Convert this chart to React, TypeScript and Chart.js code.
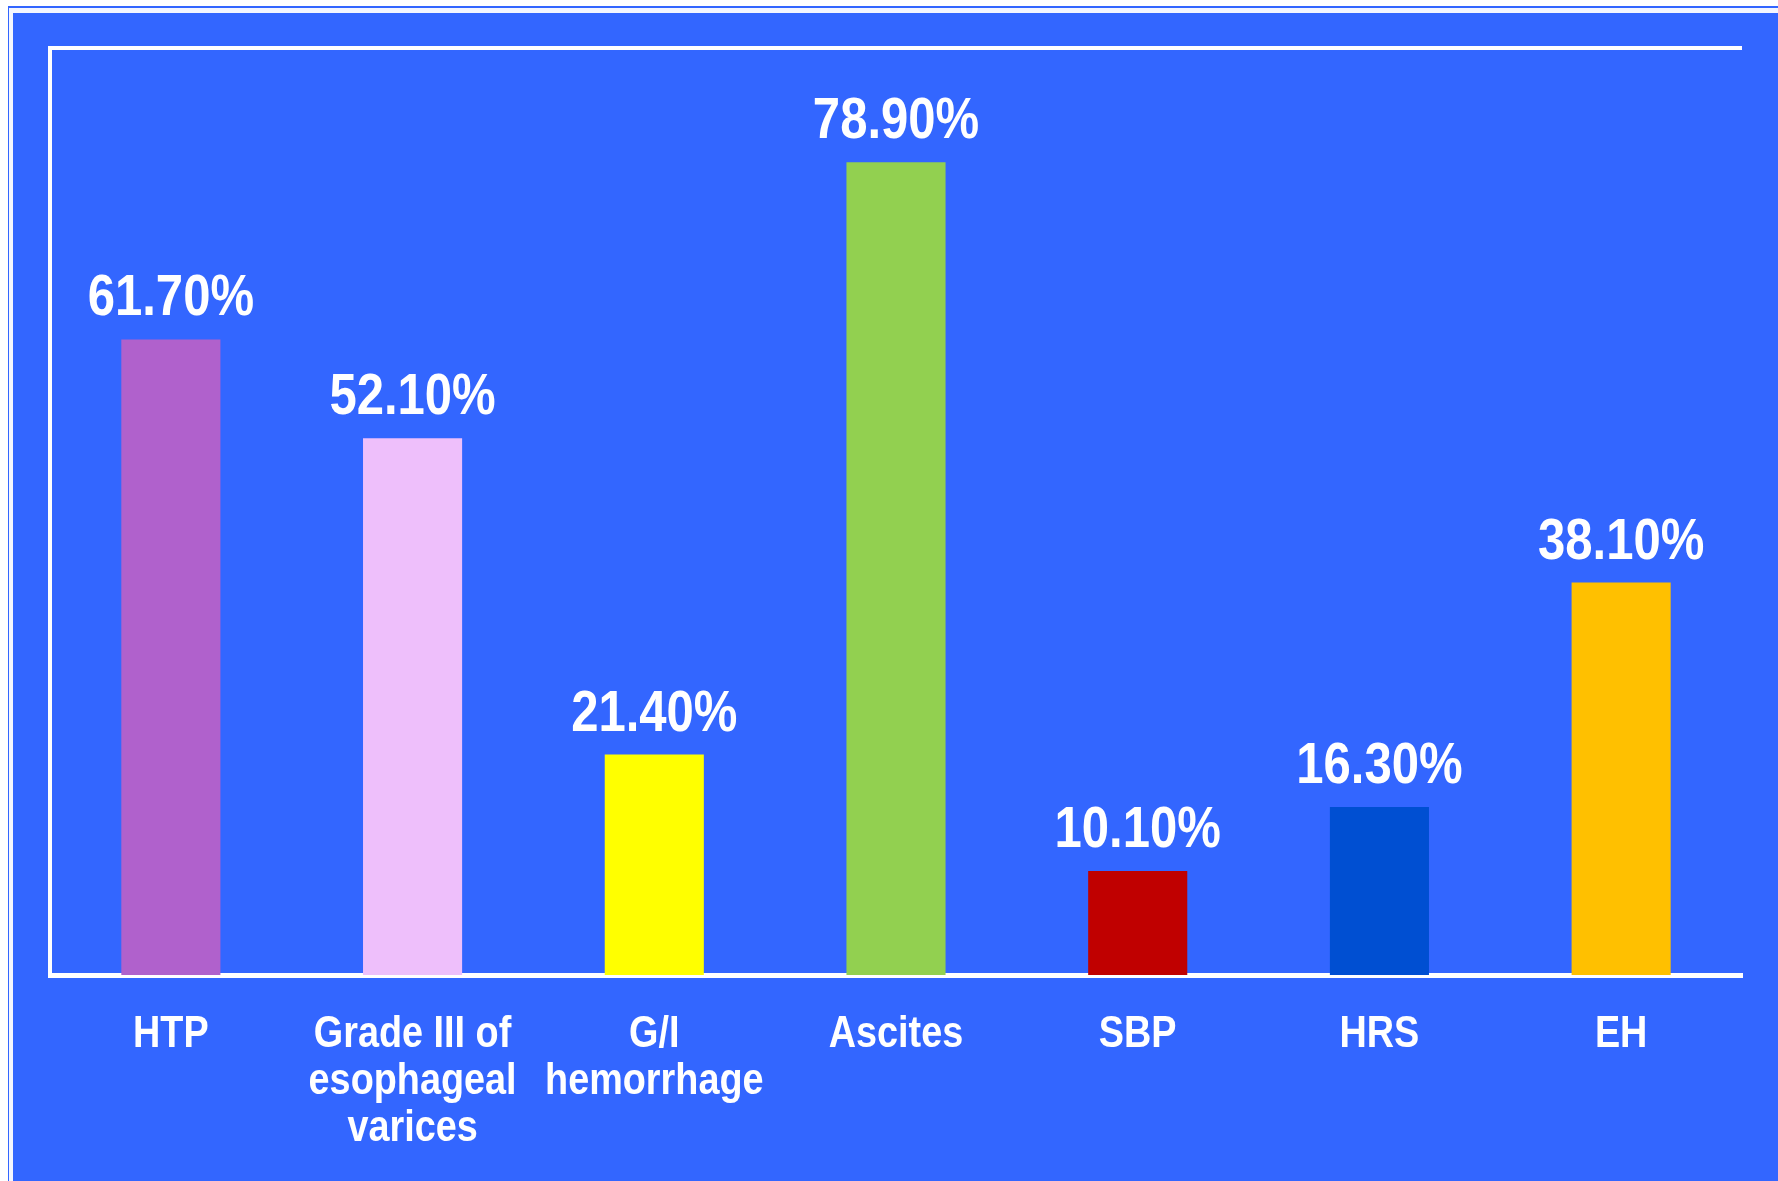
import React, { useEffect, useRef } from "react";
import { Chart, registerables } from "chart.js";

Chart.register(...registerables);

const categories: string[][] = [
  ["HTP"],
  ["Grade III of", "esophageal", "varices"],
  ["G/I", "hemorrhage"],
  ["Ascites"],
  ["SBP"],
  ["HRS"],
  ["EH"],
];
const values: number[] = [61.7, 52.1, 21.4, 78.9, 10.1, 16.3, 38.1];
const barColors: string[] = [
  "#B061CC",
  "#EEBFFB",
  "#FFFF00",
  "#92D050",
  "#C00000",
  "#004FD2",
  "#FFC000",
];
const yMin = 0;
const yMax = 90;

const FONT = '"Liberation Sans", Arial, Helvetica, sans-serif';
const BG = "#3366FF";

// draws text horizontally condensed, centered at x
function drawCondensed(ctx: CanvasRenderingContext2D, text: string, x: number, y: number, sx: number) {
  ctx.save();
  ctx.translate(x, y);
  ctx.scale(sx, 1);
  ctx.fillText(text, 0, 0);
  ctx.restore();
}

const framePlugin = {
  id: "frameAndLabels",
  afterDatasetsDraw(chart: any) {
    const { ctx, chartArea } = chart;
    ctx.save();
    ctx.strokeStyle = "#FFFFFF";
    ctx.lineWidth = 4;
    ctx.lineJoin = "miter";
    ctx.beginPath();
    ctx.moveTo(chartArea.left, chartArea.bottom);
    ctx.lineTo(chartArea.left, chartArea.top);
    ctx.lineTo(chartArea.right, chartArea.top);
    ctx.stroke();

    // value labels above bars
    const meta = chart.getDatasetMeta(0);
    ctx.fillStyle = "#FFFFFF";
    ctx.font = `bold 57px ${FONT}`;
    ctx.textAlign = "center";
    ctx.textBaseline = "alphabetic";
    meta.data.forEach((bar: any, i: number) => {
      drawCondensed(ctx, values[i].toFixed(2) + "%", bar.x, bar.y - 24, 0.86);
    });

    // category labels under the x axis
    const xs = chart.scales.x;
    ctx.font = `bold 45px ${FONT}`;
    categories.forEach((lines, i) => {
      const x = xs.getPixelForTick(i);
      lines.forEach((line, j) => {
        drawCondensed(ctx, line, x, xs.bottom + 72 + j * 47, 0.84);
      });
    });
    ctx.restore();
  },
};

export default function App() {
  const ref = useRef<HTMLCanvasElement | null>(null);

  useEffect(() => {
    if (!ref.current) return;
    const chart = new Chart(ref.current, {
      type: "bar",
      data: {
        labels: categories.map((c) => c.join(" ")),
        datasets: [
          {
            data: values,
            backgroundColor: barColors,
            borderWidth: 0,
            barPercentage: 0.41,
            categoryPercentage: 1,
          },
        ],
      },
      options: {
        animation: false,
        responsive: false,
        maintainAspectRatio: false,
        layout: { padding: { left: 50, top: 48, right: 36, bottom: 206 } },
        plugins: {
          legend: { display: false },
          tooltip: { enabled: false },
        },
        scales: {
          x: {
            grid: { display: false, drawTicks: false },
            border: { display: true, color: "#FFFFFF", width: 5 },
            ticks: { display: false },
          },
          y: {
            display: false,
            min: yMin,
            max: yMax,
          },
        },
      },
      plugins: [framePlugin],
    });
    return () => chart.destroy();
  }, []);

  return (
    <div
      style={{
        position: "fixed",
        left: 0,
        top: 0,
        width: 1778,
        height: 1181,
        background: "#FFFFFF",
        overflow: "hidden",
      }}
    >
      <div
        style={{
          position: "absolute",
          left: 8,
          top: 6,
          width: 1770,
          height: 1175,
          background: BG,
        }}
      />
      <div
        style={{
          position: "absolute",
          left: 9,
          top: 8,
          width: 1769,
          height: 1173,
          borderLeft: "4px solid #F4F6FF",
          borderTop: "5px solid #F4F6FF",
          boxSizing: "border-box",
        }}
      />
      <canvas
        ref={ref}
        width={1778}
        height={1181}
        style={{ position: "absolute", left: 0, top: 0, width: 1778, height: 1181, display: "block" }}
      />
    </div>
  );
}
